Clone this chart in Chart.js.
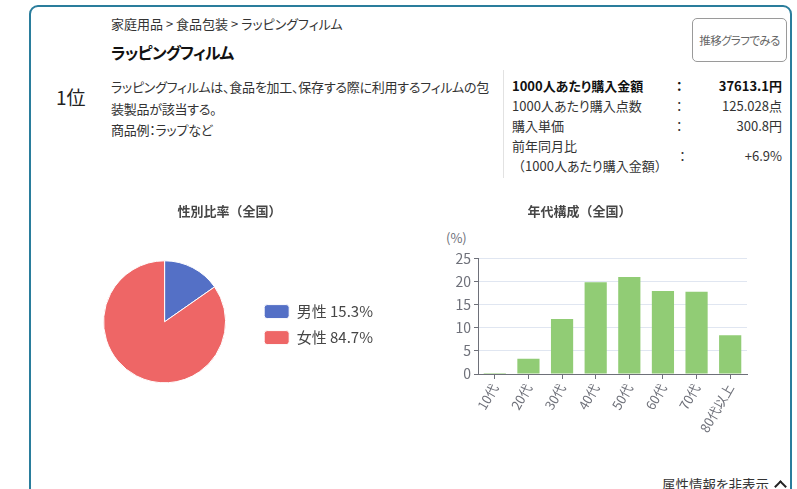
<!DOCTYPE html>
<html lang="ja">
<head>
<meta charset="utf-8">
<script src="https://cdn.jsdelivr.net/npm/chart.js@4.4.1/dist/chart.umd.min.js"></script>
<style>
  html, body { margin: 0; padding: 0; background: #fff; overflow: hidden; }
  body { width: 797px; height: 489px; position: relative; font-family: 'Noto Sans CJK JP', 'Noto Sans', sans-serif; color: #333; }
  .card { position: absolute; left: 29px; top: 5px; width: 763px; height: 520px; border: 2px solid #2a7d9c; border-radius: 9px; box-sizing: border-box; }
  .abs { position: absolute; white-space: nowrap; }
  .palt { font-feature-settings: "palt"; }
  .crumb { left: 111px; top: 14px; font-size: 13px; line-height: 20px; color: #333; }
  .name { left: 111px; top: 41px; font-size: 16px; font-weight: bold; line-height: 22px; color: #111; letter-spacing: -0.8px; }
  .rank { left: 56px; top: 84px; font-size: 19px; line-height: 26px; color: #222; }
  .desc { left: 111px; top: 76px; font-size: 13px; line-height: 21.5px; color: #333; letter-spacing: -0.25px; }
  .divider { position: absolute; left: 503px; top: 70px; width: 1px; height: 108px; background: #e2e2e2; }
  .stats { left: 512px; top: 76px; font-size: 13px; line-height: 20px; color: #333; }
  .stats .row { position: relative; width: 270px; height: 20px; }
  .stats .row.tall { height: 40px; }
  .stats .colon { position: absolute; left: 164px; top: 0; }
  .stats .row.tall .colon, .stats .row.tall .val { top: 10px; }
  .stats .val { position: absolute; right: 0; top: 0; }
  .stats .b { font-weight: bold; color: #111; }
  .btn { position: absolute; left: 692px; top: 18px; width: 95px; height: 44px; box-sizing: border-box; border: 1px solid #9a9a9a; border-radius: 5px; font-size: 11.5px; letter-spacing: -0.6px; color: #666; text-align: center; line-height: 42px; white-space: nowrap; }
  .unit { left: 446px; top: 229px; font-size: 13px; line-height: 18px; color: #6e7079; }
  .toggle { left: 662px; top: 474px; font-size: 13.5px; line-height: 20px; color: #333; }
  .chev { position: absolute; left: 776px; top: 482px; width: 7px; height: 7px; border-left: 2.5px solid #222; border-top: 2.5px solid #222; transform: rotate(45deg); }
  #pieWrap { position: absolute; left: 56px; top: 196px; width: 344px; height: 218px; }
  #barWrap { position: absolute; left: 412px; top: 196px; width: 376px; height: 274px; }
</style>
</head>
<body>
<div class="card"></div>
<div class="abs crumb palt">家庭用品 &gt; 食品包装 &gt; ラッピングフィルム</div>
<div class="abs name palt">ラッピングフィルム</div>
<div class="abs rank">1位</div>
<div class="abs desc palt">ラッピングフィルムは、食品を加工、保存する際に利用するフィルムの包<br>装製品が該当する。<br>商品例：ラップなど</div>
<div class="divider"></div>
<div class="abs stats">
  <div class="row palt"><span class="b">1000人あたり購入金額</span><span class="colon b">：</span><span class="val b">37613.1円</span></div>
  <div class="row palt"><span>1000人あたり購入点数</span><span class="colon">：</span><span class="val">125.028点</span></div>
  <div class="row palt"><span>購入単価</span><span class="colon">：</span><span class="val">300.8円</span></div>
  <div class="row tall"><span><span class="palt">前年同月比</span><br>（<span class="palt">1000人あたり購入金額</span>）</span><span class="colon">：</span><span class="val">+6.9%</span></div>
</div>
<div class="btn palt">推移グラフでみる</div>
<div class="abs unit">(%)</div>
<div class="abs toggle palt">属性情報を非表示</div>
<div class="chev"></div>

<div id="pieWrap"><canvas id="pieChart" width="344" height="218"></canvas></div>
<div id="barWrap"><canvas id="barChart" width="376" height="274"></canvas></div>

<script>
const genderLabels = ['男性', '女性'];
const genderValues = [15.3, 84.7];
const genderColors = ['#5470c6', '#ee6666'];

const ageLabels = ['10代', '20代', '30代', '40代', '50代', '60代', '70代', '80代以上'];
const ageValues = [0.2, 3.3, 11.9, 19.9, 21.0, 18.0, 17.8, 8.4];
const ageTicks = { min: 0, max: 25, step: 5 };

const chartFont = "'Noto Sans CJK JP', 'Noto Sans', sans-serif";

document.addEventListener('DOMContentLoaded', function () {
  loadGenderChart();
  loadAgeChart();
});

function loadGenderChart() {
  const ctx = document.getElementById('pieChart').getContext('2d');

  new Chart(ctx, {
    type: 'pie',
    data: {
      labels: genderLabels.map((g, i) => `${g} ${genderValues[i]}%`),
      datasets: [{
        data: genderValues,
        backgroundColor: genderColors,
        borderColor: '#fff',
        borderWidth: 1,
        hoverOffset: 0,
        radius: 61
      }]
    },
    options: {
      responsive: false,
      animation: false,
      layout: { padding: { left: 20, right: 17, top: 0, bottom: 1 } },
      plugins: {
        title: {
          display: true,
          text: '性別比率（全国）',
          color: '#464646',
          font: { family: chartFont, size: 13, weight: 'bold' },
          padding: { top: 7, bottom: 12 }
        },
        legend: {
          position: 'right',
          // blank legend title, only to push the items down next to the pie
          title: { display: true, text: ' ', font: { size: 1 }, padding: { top: 0, bottom: 39 } },
          labels: {
            boxWidth: 25,
            boxHeight: 14,
            useBorderRadius: true,
            borderRadius: 3,
            padding: 11,
            color: '#464646',
            font: { family: chartFont, size: 15 }
          }
        },
        tooltip: { enabled: false }
      }
    }
  });
}

function loadAgeChart() {
  const ctx = document.getElementById('barChart').getContext('2d');

  new Chart(ctx, {
    type: 'bar',
    data: {
      labels: ageLabels,
      datasets: [{
        data: ageValues,
        backgroundColor: '#91cc75',
        barPercentage: 0.66,
        categoryPercentage: 1
      }]
    },
    options: {
      responsive: false,
      animation: false,
      layout: { padding: { left: 0, right: 41, top: 0, bottom: 26 } },
      plugins: {
        title: {
          display: true,
          text: '年代構成（全国）',
          color: '#464646',
          font: { family: chartFont, size: 13, weight: 'bold' },
          padding: { top: 7, bottom: 40 }
        },
        legend: { display: false },
        tooltip: { enabled: false }
      },
      scales: {
        x: {
          afterFit: (scale) => { scale.height = 70; },
          grid: {
            offset: false,
            drawOnChartArea: false,
            drawTicks: true,
            tickLength: 5,
            tickColor: '#6e7079'
          },
          border: { color: '#6e7079', width: 1 },
          ticks: {
            minRotation: 60,
            maxRotation: 60,
            padding: 2,
            color: '#6e7079',
            font: { family: chartFont, size: 13 }
          }
        },
        y: {
          min: ageTicks.min,
          max: ageTicks.max,
          afterFit: (scale) => { scale.width = 66; },
          grid: {
            color: '#e0e6f1',
            tickLength: 4,
            tickColor: '#6e7079'
          },
          border: { color: '#6e7079', width: 1 },
          ticks: {
            stepSize: ageTicks.step,
            padding: 3,
            color: '#6e7079',
            font: { family: chartFont, size: 14 }
          }
        }
      }
    }
  });
}
</script>
</body>
</html>
